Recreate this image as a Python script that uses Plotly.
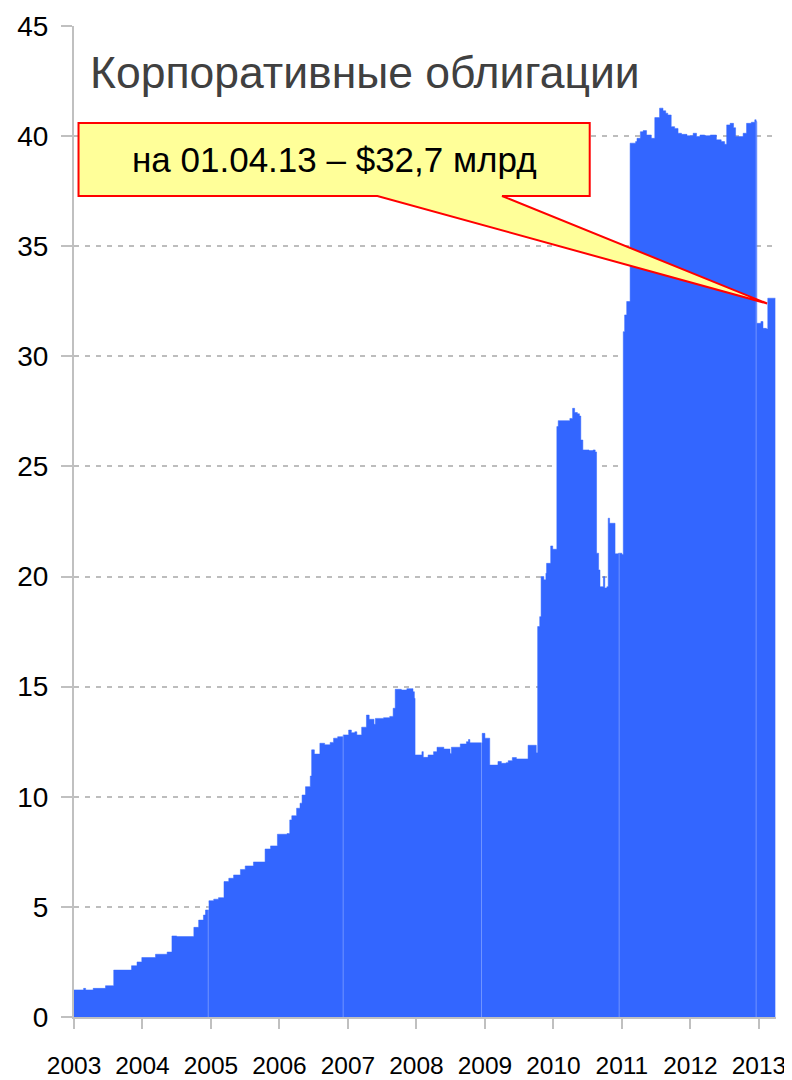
import plotly.graph_objects as go
import numpy as np

# ---- data (decimal year, bn USD) ----
t_years = [
    2003.00, 2003.14, 2003.17, 2003.28, 2003.46, 2003.58, 2003.84, 2003.92, 2003.99, 2004.19,
    2004.36, 2004.43, 2004.50, 2004.75, 2004.82, 2004.89, 2004.92, 2004.97, 2005.04, 2005.11,
    2005.19, 2005.26, 2005.33, 2005.43, 2005.50, 2005.62, 2005.79, 2005.87, 2005.97, 2006.11,
    2006.15, 2006.18, 2006.25, 2006.30, 2006.33, 2006.38, 2006.45, 2006.47, 2006.51, 2006.59,
    2006.66, 2006.74, 2006.79, 2006.85, 2006.93, 2007.01, 2007.05, 2007.10, 2007.13, 2007.20,
    2007.27, 2007.31, 2007.38, 2007.40, 2007.52, 2007.61, 2007.66, 2007.69, 2007.78, 2007.86,
    2007.95, 2007.97, 2007.98, 2008.08, 2008.10, 2008.17, 2008.25, 2008.30, 2008.40, 2008.49,
    2008.51, 2008.64, 2008.73, 2008.76, 2008.78, 2008.93, 2008.96, 2009.00, 2009.07, 2009.19,
    2009.24, 2009.31, 2009.34, 2009.40, 2009.46, 2009.63, 2009.75, 2009.77, 2009.80, 2009.82,
    2009.86, 2009.89, 2009.90, 2009.96, 2009.99, 2010.05, 2010.07, 2010.24, 2010.28, 2010.31,
    2010.35, 2010.38, 2010.40, 2010.43, 2010.52, 2010.58, 2010.61, 2010.63, 2010.66, 2010.68,
    2010.73, 2010.75, 2010.78, 2010.80, 2010.82, 2010.90, 2010.95, 2011.00, 2011.02, 2011.04,
    2011.07, 2011.12, 2011.20, 2011.22, 2011.27, 2011.31, 2011.36, 2011.43, 2011.48, 2011.55,
    2011.60, 2011.64, 2011.67, 2011.72, 2011.77, 2011.82, 2011.87, 2011.95, 2012.04, 2012.09,
    2012.14, 2012.21, 2012.29, 2012.38, 2012.45, 2012.50, 2012.53, 2012.58, 2012.63, 2012.66,
    2012.75, 2012.77, 2012.82, 2012.89, 2012.94, 2012.96, 2012.97, 2013.03, 2013.06, 2013.11,
    2013.13, 2013.24,
]
bonds_bn = [
    1.23, 1.30, 1.23, 1.30, 1.42, 2.13, 2.33, 2.50, 2.70, 2.85,
    2.95, 3.68, 3.65, 4.07, 4.40, 4.63, 4.86, 5.28, 5.35, 5.42,
    6.15, 6.30, 6.45, 6.70, 6.86, 7.04, 7.63, 7.77, 8.30, 8.33,
    8.95, 9.14, 9.48, 9.71, 10.08, 10.46, 10.94, 12.13, 11.94, 12.43,
    12.36, 12.47, 12.66, 12.73, 12.81, 13.03, 12.91, 12.95, 12.81, 13.16,
    13.71, 13.52, 13.29, 13.56, 13.59, 13.65, 14.02, 14.88, 14.85, 14.91,
    14.77, 14.47, 11.90, 12.05, 11.79, 11.90, 12.05, 12.25, 12.17, 11.97,
    12.25, 12.40, 12.50, 12.60, 12.45, 12.45, 12.88, 12.66, 11.44, 11.60,
    11.52, 11.55, 11.64, 11.78, 11.72, 12.34, 12.00, 17.73, 18.18, 20.00,
    19.85, 20.15, 20.60, 21.39, 21.24, 26.81, 27.08, 27.18, 27.64, 27.45,
    27.39, 27.29, 26.20, 25.75, 25.72, 25.75, 25.66, 21.06, 20.30, 19.54,
    20.00, 19.48, 19.54, 22.65, 22.42, 21.03, 21.06, 21.00, 31.12, 31.88,
    32.49, 39.68, 39.75, 39.90, 40.20, 40.25, 40.05, 39.90, 40.84, 41.27,
    41.15, 41.04, 40.96, 40.43, 40.35, 40.13, 40.08, 40.02, 40.13, 39.98,
    40.05, 40.02, 40.05, 39.83, 39.75, 39.63, 40.51, 40.58, 40.38, 39.98,
    39.98, 40.13, 40.58, 40.63, 40.74, 40.66, 31.50, 31.58, 31.27, 31.24,
    32.64, 32.64,
]
year_ticks = [2003, 2004, 2005, 2006, 2007, 2008, 2009, 2010, 2011, 2012, 2013]
year_labels = [str(y) for y in year_ticks]
segment_breaks = [2004.96, 2006.93, 2008.95, 2010.96, 2012.96]

title_text = "Корпоративные облигации"
callout_text = "на 01.04.13 – $32,7 млрд"
callout_tip = (2013.12, 32.4)

FONT = "Liberation Sans, Arial, sans-serif"
BLUE = "#3366FF"

fig = go.Figure()
fig.add_trace(go.Scatter(
    x=t_years, y=bonds_bn, mode="lines", line=dict(shape="hv", width=0.5, color=BLUE),
    fill="tozeroy", fillcolor=BLUE, hoverinfo="skip", showlegend=False,
))

# faint segment separators
shapes = []
for b in segment_breaks:
    v = float(np.interp(b, t_years, bonds_bn))
    shapes.append(dict(type="line", xref="x", yref="y", x0=b, x1=b, y0=0, y1=v,
                       line=dict(color="rgba(255,255,255,0.3)", width=1), layer="above"))

# callout box with wedge
bx0, bx1, by0, by1 = 2003.066, 2010.53, 37.28, 40.6
wl, wr = 2007.43, 2009.25
tx, ty = callout_tip
path = (f"M {bx0},{by1} L {bx1},{by1} L {bx1},{by0} L {wr},{by0} L {tx},{ty} "
        f"L {wl},{by0} L {bx0},{by0} Z")
shapes.append(dict(type="path", xref="x", yref="y", path=path, fillcolor="#FFFF99",
                   line=dict(color="#FF0000", width=2), layer="above"))

fig.update_layout(
    width=784, height=1072,
    margin=dict(l=66, r=16, t=18, b=63),
    paper_bgcolor="white", plot_bgcolor="white",
    font=dict(family=FONT, color="black"),
    shapes=shapes,
    showlegend=False,
    annotations=[
        dict(text=title_text, xref="paper", yref="paper", x=0.02, y=0.9526,
             xanchor="left", yanchor="middle", showarrow=False,
             font=dict(size=44.5, color="#404040", family=FONT)),
        dict(text=callout_text, xref="x", yref="y", x=(bx0 + bx1) / 2, y=(by0 + by1) / 2,
             xanchor="center", yanchor="middle", showarrow=False,
             font=dict(size=35, color="black", family=FONT)),
    ],
)
fig.update_xaxes(
    range=[2003, 2013.25], tickvals=year_ticks, ticktext=year_labels,
    ticks="outside", ticklen=10, tickwidth=2, tickcolor="#c0c0c0",
    showline=True, linecolor="#c0c0c0", linewidth=2, showgrid=False, zeroline=False,
    tickfont=dict(size=24.5, family=FONT, color="black"), ticklabelstandoff=16,
    automargin=False,
)
fig.update_yaxes(
    range=[0, 45], dtick=5, tick0=0,
    ticks="outside", ticklen=11, tickwidth=2, tickcolor="#c0c0c0",
    showline=True, linecolor="#c0c0c0", linewidth=2,
    showgrid=True, gridcolor="#bdbdbd", gridwidth=2, griddash="5px,6px", zeroline=False,
    tickfont=dict(size=28, family=FONT, color="black"), ticklabelstandoff=7,
    automargin=False,
)

fig.write_html("out.html")
